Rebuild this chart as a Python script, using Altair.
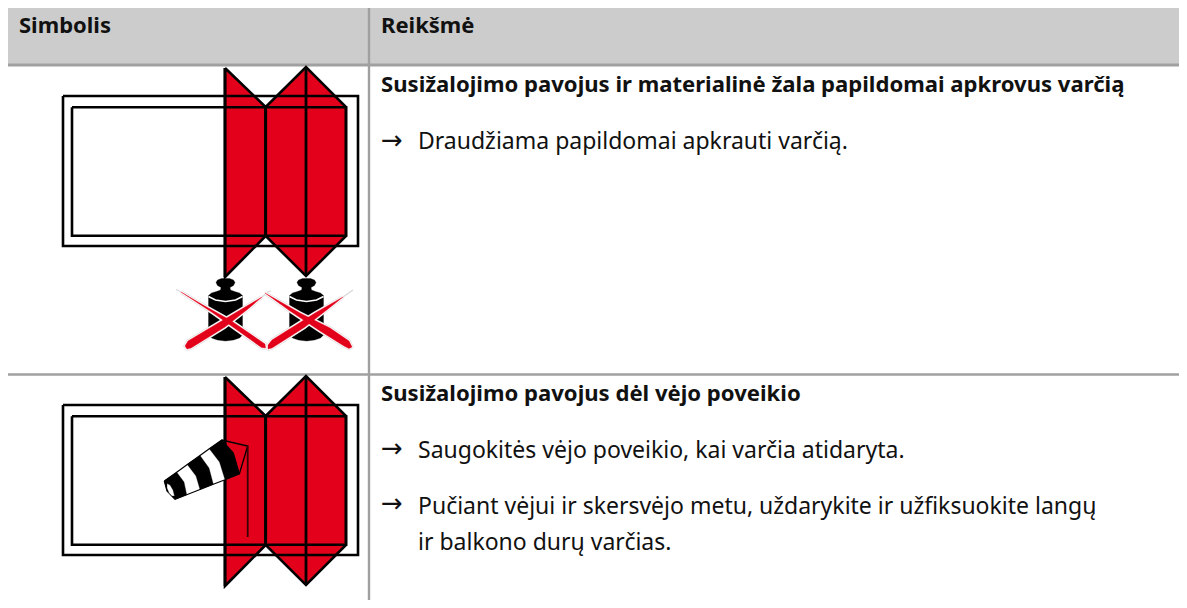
import altair as alt
import pandas as pd

W, H = 1171, 592
X0, Y0 = 8, 8
FONT = "Noto Sans"
ARROW_FONT = "DejaVu Sans"
RED = "#e2001a"
GRID = "#a0a0a0"
ROW2 = 309

# Table cells and rules: x1, x2, y1, y2, colour
table_rects = [
    (8, 1187, 5, 66, "#cccccc"),
    (8, 1187, 5, 8, GRID),
    (8, 1187, 63.5, 66.5, GRID),
    (8, 1187, 373.3, 375.7, GRID),
    (367.8, 370.2, 5, 608, GRID),
]

# Text rows: x, baseline y, style, string
text_rows = [
    (19, 33, "head", "Simbolis"),
    (381, 33, "head", "Reikšmė"),
    (381, 92, "bold", "Susižalojimo pavojus ir materialinė žala papildomai apkrovus varčią"),
    (381, 148.5, "arrow", "→"),
    (418, 149, "body", "Draudžiama papildomai apkrauti varčią."),
    (381, 401, "bold", "Susižalojimo pavojus dėl vėjo poveikio"),
    (381, 457, "arrow", "→"),
    (418, 458, "body", "Saugokitės vėjo poveikio, kai varčia atidaryta."),
    (381, 512, "arrow", "→"),
    (418, 514, "body", "Pučiant vėjui ir skersvėjo metu, uždarykite ir užfiksuokite langų"),
    (418, 550, "body", "ir balkono durų varčias."),
]
text_styles = {
    "head": (FONT, 22, "bold"),
    "bold": (FONT, 22.1, "bold"),
    "body": (FONT, 23, "normal"),
    "arrow": (ARROW_FONT, 26, "normal"),
}

# Folding sash outlines (first row; second row is shifted down)
leaf_left = [(225, 68), (265.7, 107), (265.7, 236), (225, 277), (225, 68)]
leaf_right = [(265.7, 107), (306, 67), (346, 107), (346, 236), (306, 276), (265.7, 236), (265.7, 107)]
frame_outer = [(63, 96), (358, 96), (358, 246), (63, 246), (63, 96)]
frame_inner = [(72, 107.3), (346, 107.3), (346, 235.7), (72, 235.7), (72, 107.3)]
leaf_lines = [
    [(225, 68), (225, 277)],
    [(265.7, 107), (265.7, 236)],
    [(306, 67), (306, 276)],
]

# Weights (centre x; silhouette half-profile as dx, y)
weight_centres = [225.5, 306.5]
weight_half = [(0, 278.5), (4, 278.5), (8, 280), (9.5, 282.5), (8, 285.5), (4.5, 287.5), (5, 290), (9, 291.5),
               (14, 293), (17, 295.5), (17, 335), (14, 338), (8, 340), (0, 341)]
weight_arc = [(-17, 296.5), (-10, 300), (0, 301.5), (10, 300), (17, 296.5)]

# Crossing-out strokes
cross_shapes = [
    [(181, 292), (203, 305), (230, 320), (265, 344), (265.5, 348), (261.5, 347.5), (237, 330), (213, 313), (181, 292)],
    [(262, 297), (235, 313), (188, 341), (185, 346), (187, 349), (191, 348), (225, 327), (248, 309), (262, 297)],
    [(265, 293), (300, 313), (330, 328), (349, 341), (352, 347), (349, 348.5), (344, 346), (320, 331), (290, 311), (265, 293)],
    [(343, 297), (315, 313), (272, 340), (268, 345), (268, 349), (272, 348), (305, 327), (328, 309), (343, 297)],
]
cross_tips = [
    [(181, 292), (176, 289.5)],
    [(262, 297), (268, 292)],
    [(265, 293), (271, 291)],
    [(343, 297), (353, 290)],
]

# Windsock
sock_all = [(164.3, 481), (176.7, 472.2), (187.3, 464.6), (200, 455.5), (209.3, 448.8), (221.7, 440), (233.3, 453),
            (239.3, 474), (225, 479.7), (213.3, 484.2), (200, 489.5), (186.7, 494.7), (175, 499.3), (167, 491), (164.3, 481)]
sock_black = [
    [(164.3, 481), (176.7, 472.2), (184, 482), (186.7, 494.7), (175, 499.3), (167, 491), (164.3, 481)],
    [(187.3, 464.6), (200, 455.5), (209, 468), (213.3, 484.2), (200, 489.5), (196, 476), (187.3, 464.6)],
    [(209.3, 448.8), (221.7, 440), (233.3, 453), (239.3, 474), (225, 479.7), (219.5, 462), (209.3, 448.8)],
]
sock_mouth = [(167, 483.5), (170, 485), (173, 490), (174.5, 496), (172, 496), (169, 493), (167, 488), (167, 483.5)]
sock_ties = [[(221.7, 440), (247.7, 446), (239.3, 474)]]
sock_pole = [(247.7, 446), (247.7, 537)]


def sx():
    return alt.X("x:Q", axis=None, scale=alt.Scale(domain=[X0, X0 + W], nice=False, zero=False))


def sy():
    return alt.Y("y:Q", axis=None, scale=alt.Scale(domain=[Y0 + H, Y0], nice=False, zero=False))


def path(points, dy=0, dx=0, **mark):
    df = pd.DataFrame({"x": [p[0] + dx for p in points], "y": [p[1] + dy for p in points], "i": range(len(points))})
    mark.setdefault("clip", False)
    mark.setdefault("strokeCap", "butt")
    mark.setdefault("strokeJoin", "miter")
    return alt.Chart(df).mark_line(**mark).encode(x=sx(), y=sy(), order=alt.Order("i:Q"))


layers = []
for x1, x2, y1, y2, col in table_rects:
    df = pd.DataFrame({"x": [x1], "x2": [x2], "y": [y1], "y2": [y2]})
    layers.append(alt.Chart(df).mark_rect(color=col, clip=False).encode(x=sx(), x2="x2:Q", y=sy(), y2="y2:Q"))

for dy in (0, ROW2):
    for leaf in (leaf_left, leaf_right):
        layers.append(path(leaf, dy=dy, fill=RED, stroke="black", strokeWidth=2.6))
    layers.append(path(frame_outer, dy=dy, stroke="black", strokeWidth=2.6))
    layers.append(path(frame_inner, dy=dy, stroke="black", strokeWidth=2.6))
    for ln in leaf_lines:
        layers.append(path(ln, dy=dy, stroke="black", strokeWidth=2.8))

# Weights
for c in weight_centres:
    sil = [(p[0], p[1]) for p in weight_half] + [(-p[0], p[1]) for p in reversed(weight_half)]
    layers.append(path(sil, dx=c, fill="black", stroke="black", strokeWidth=0.3))
    layers.append(path(weight_arc, dx=c, stroke="white", strokeWidth=1.4))
for tip in cross_tips:
    layers.append(path(tip, stroke="#d8d8d8", strokeWidth=1.2))
for shape in cross_shapes:
    layers.append(path(shape, stroke="#d8d8d8", strokeWidth=3.4, strokeJoin="round"))
for shape in cross_shapes:
    layers.append(path(shape, stroke="white", strokeWidth=2.4, fill="white", strokeJoin="round"))
for shape in cross_shapes:
    layers.append(path(shape, fill=RED, stroke=RED, strokeWidth=0.4))

# Windsock
layers.append(path(sock_all, fill="white", stroke="black", strokeWidth=1.2))
for s in sock_black:
    layers.append(path(s, fill="black", stroke="black", strokeWidth=0.3))
layers.append(path(sock_mouth, fill="white", stroke="black", strokeWidth=0.3))
for t in sock_ties:
    layers.append(path(t, stroke="black", strokeWidth=1.3))
layers.append(path(sock_pole, stroke="#3a0008", strokeWidth=1.8))

# Text
for style, (font, size, weight) in text_styles.items():
    rows = [r for r in text_rows if r[2] == style]
    df = pd.DataFrame({"x": [r[0] for r in rows], "y": [r[1] for r in rows], "t": [r[3] for r in rows]})
    layers.append(
        alt.Chart(df)
        .mark_text(font=font, fontSize=size, fontWeight=weight, align="left", baseline="alphabetic", color="#111111", clip=False)
        .encode(x=sx(), y=sy(), text="t:N")
    )

chart = (
    alt.layer(*layers)
    .properties(width=W, height=H, autosize=alt.AutoSizeParams(type="none"), padding=0)
    .configure_view(stroke=None)
)
chart.save("out.html", embed_options={"renderer": "svg", "actions": False})
